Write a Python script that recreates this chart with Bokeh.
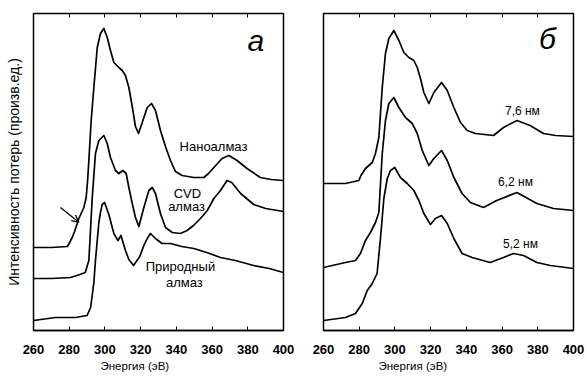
from bokeh.plotting import figure
from bokeh.layouts import row
from bokeh.models import Range1d, FixedTicker, LinearAxis, Label, Arrow, OpenHead, Title
from bokeh.embed import file_html
from bokeh.resources import INLINE

# ---------------- data (energy in eV, intensity in arbitrary units) ----------------
x_ticks = [260, 280, 300, 320, 340, 360, 380, 400]

nano_E = [260, 270, 279, 281.7, 283, 285.4, 288.2, 289.5, 290.3, 291, 292.3, 293.8, 295.7, 297.5,
          299.4, 301.3, 303.1, 305, 307.8, 309.7, 311.5, 313.4, 315.3, 317.1, 318.8, 320.9, 323.7,
          326.1, 328.3, 331.1, 333.9, 336.7, 339.5, 343.2, 349.8, 355.4, 358, 361, 365.6, 369.4,
          374, 379.6, 387, 393, 400]
nano_I = [83, 83, 84, 93, 99, 112, 123, 133, 150, 170, 210, 243, 283, 297,
          302, 293, 280, 268, 263, 260, 255, 243, 224, 204, 197, 208, 223,
          227, 220, 200, 184, 170, 159, 155, 153, 153, 157, 163, 172, 175,
          170, 162, 153, 151, 150]

cvd_E = [260, 270, 280.7, 286, 289, 291, 292, 292.9, 294.7, 296.6, 299.4, 301.3, 303.1, 305.9,
         307.8, 310, 311.9, 313.4, 315.3, 317.1, 319, 321.8, 324.6, 326.5, 328.3, 331.1, 333.9,
         337.7, 342.3, 346, 349.6, 353.5, 357.3, 361, 364.7, 368.4, 371, 376, 383.3, 390, 400]
cvd_I = [52, 52, 53, 56, 58, 70, 103, 133, 177, 190, 195, 187, 173, 160,
         157, 160, 157, 143, 127, 113, 104, 123, 140, 143, 137, 117, 103,
         98, 97, 100, 105, 112, 120, 132, 140, 150, 148, 137, 126, 122, 119]

nat_E = [260, 272.3, 283.5, 290, 292, 293.8, 294.7, 295.7, 296.6, 297.5, 298.5, 299.8, 302.2,
         305, 307.3, 309, 311.5, 313.4, 316, 319.5, 321.8, 323.7, 325.5, 328.3, 332, 336.7,
         343, 349.8, 357, 364.7, 373, 383.3, 392, 400]
nat_I = [10, 13, 13, 15, 23, 48, 70, 90, 108, 118, 126, 128, 116,
         97, 90, 95, 80, 71, 65, 74, 85, 92, 97, 92, 87, 87,
         84, 82, 78, 73, 70, 65, 62, 58]

nm76_E = [260, 272.3, 279.8, 281, 283.5, 287.3, 289.1, 291, 292.9, 294.7, 296.6, 299.4, 302.2,
          305, 307.8, 310.6, 312.5, 314.3, 316.2, 319, 321.8, 326.1, 329.3, 333, 336.7, 340.5,
          345.1, 355.2, 360.8, 368.3, 375.7, 383.2, 390, 400]
nm76_I = [147, 147, 150, 155, 162, 168, 177, 193, 243, 277, 292, 300, 290,
          278, 273, 270, 263, 252, 238, 227, 238, 248, 240, 223, 208, 200,
          197, 195, 203, 210, 205, 197, 195, 194]

nm62_E = [260, 272.3, 277.9, 280.7, 283.5, 286.3, 289.1, 291, 292.9, 294.7, 296.6, 299.4, 302.2,
          305.9, 309.7, 312.5, 315.3, 319, 321.8, 326.1, 329.3, 333, 337.6, 342.3, 349.6, 357,
          368.3, 379.5, 388.8, 400]
nm62_I = [63, 68, 70, 77, 90, 98, 108, 118, 177, 210, 227, 233, 223,
          213, 207, 197, 180, 165, 172, 180, 170, 153, 137, 128, 123, 130,
          138, 127, 122, 120]

nm52_E = [260, 272.3, 277.9, 281.7, 284.5, 287.3, 290, 291.9, 293.8, 295.7, 297.5, 299.9, 303.1,
          306.9, 310.6, 313.4, 316.2, 319.9, 322.7, 326.1, 329.3, 333, 337.6, 343.2, 353.3, 360.8,
          366.4, 372, 379.5, 387, 400]
nm52_I = [10, 13, 17, 27, 40, 47, 57, 92, 132, 152, 160, 163, 153,
          147, 140, 130, 117, 106, 112, 115, 107, 92, 77, 73, 68, 73,
          77, 75, 68, 65, 62]

FONT = "Liberation Sans"


def make_panel(width, bl, br, ylabel=None, xlabel_offset=0):
    p = figure(width=width, height=378, x_range=Range1d(260, 400), y_range=Range1d(0, 317),
               output_backend="svg", toolbar_location=None,
               min_border_left=bl, min_border_right=br, min_border_top=13, min_border_bottom=48,
               background_fill_color="white", border_fill_color="white")
    p.xgrid.visible = False
    p.ygrid.visible = False
    p.outline_line_color = "black"
    p.outline_line_width = 1.5

    xa = p.xaxis[0]
    xa.ticker = FixedTicker(ticks=x_ticks)
    xa.major_tick_in = 4
    xa.major_tick_out = 0
    xa.minor_tick_line_color = None
    xa.axis_line_color = "black"
    xa.axis_line_width = 1.5
    xa.major_tick_line_width = 1
    xa.major_label_text_font = FONT
    xa.major_label_text_font_size = "13px"
    xa.major_label_text_font_style = "bold"
    xa.major_label_text_color = "black"
    xa.major_label_standoff = 14

    top = LinearAxis(ticker=FixedTicker(ticks=x_ticks), major_tick_in=4, major_tick_out=0,
                     minor_tick_line_color=None, axis_line_color=None,
                     major_label_text_color=None, major_label_standoff=0)
    p.add_layout(top, "above")

    ya = p.yaxis[0]
    if ylabel is None:
        ya.visible = False
    else:
        ya.ticker = FixedTicker(ticks=[])
        ya.axis_line_color = None
        ya.major_tick_line_color = None
        ya.minor_tick_line_color = None
        ya.major_label_text_color = None
        ya.major_label_standoff = 0
        ya.axis_label = ylabel
        ya.axis_label_text_font = FONT
        ya.axis_label_text_font_size = "14px"
        ya.axis_label_text_font_style = "normal"
        ya.axis_label_text_color = "black"
        ya.axis_label_standoff = 12

    t = Title(text="Энергия (эВ)", align="left", offset=xlabel_offset, text_font=FONT,
              text_font_size="11.5px", text_font_style="normal", text_color="black", standoff=3)
    p.add_layout(t, "below")
    return p


def lbl(p, x, y, text, size="13px", style="normal"):
    p.add_layout(Label(x=x, y=y, text=text, text_align="center", text_baseline="middle",
                       text_font=FONT, text_font_size=size, text_font_style=style,
                       text_color="black"))


# ---------------- panel a ----------------
pa = make_panel(303, 33, 20, ylabel="Интенсивность потерь (произв.ед.)", xlabel_offset=67)
for E, I in [(nano_E, nano_I), (cvd_E, cvd_I), (nat_E, nat_I)]:
    pa.line(E, I, line_color="black", line_width=1.7, line_join="round")
lbl(pa, 360.8, 184, "Наноалмаз")
lbl(pa, 346.2, 137, "CVD")
lbl(pa, 345.7, 124, "алмаз")
lbl(pa, 342.3, 64, "Природный")
lbl(pa, 344.5, 48, "алмаз")
lbl(pa, 384.5, 290, "а", size="30px", style="italic")
pa.add_layout(Arrow(end=OpenHead(size=7, line_width=1.3, line_color="black"),
                    x_start=275.1, y_start=123, x_end=285.4, y_end=108.3,
                    line_width=1.3, line_color="black"))

# ---------------- panel b ----------------
pb = make_panel(284, 20, 14, ylabel=None, xlabel_offset=55)
for E, I in [(nm76_E, nm76_I), (nm62_E, nm62_I), (nm52_E, nm52_I)]:
    pb.line(E, I, line_color="black", line_width=1.7, line_join="round")
lbl(pb, 371.4, 220, "7,6 нм", size="12px")
lbl(pb, 367.5, 149, "6,2 нм", size="12px")
lbl(pb, 370.3, 87, "5,2 нм", size="12px")
lbl(pb, 385.4, 292, "б", size="30px", style="italic")

layout = row(pa, pb)
open("out.html", "w").write(file_html(layout, INLINE))
